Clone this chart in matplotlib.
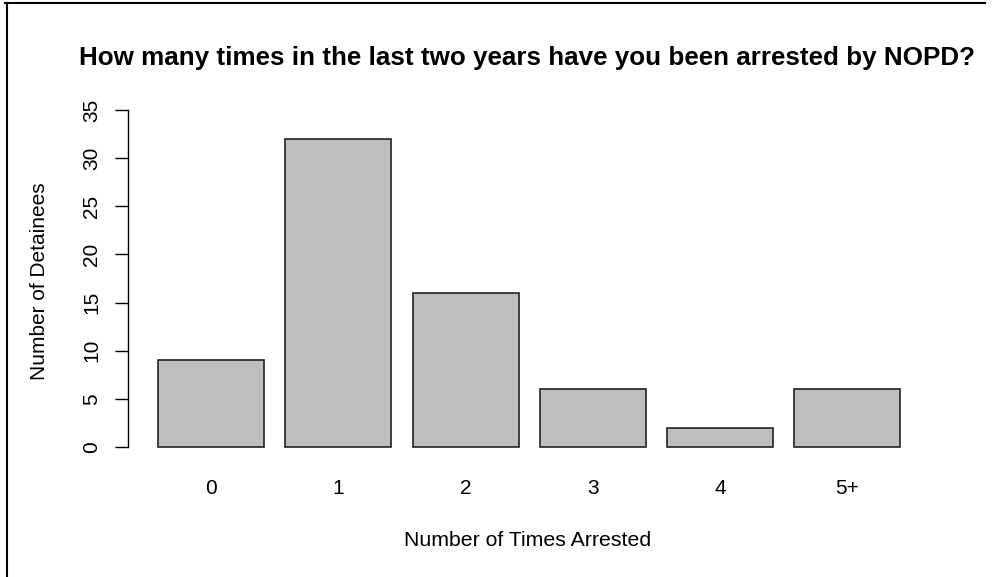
import numpy as np
import matplotlib
matplotlib.use("Agg")
import matplotlib.pyplot as plt
from matplotlib.lines import Line2D

plt.rcParams['font.family'] = ['Liberation Sans', 'DejaVu Sans']

# data
categories = ['0', '1', '2', '3', '4', '5+']
detainees = [9, 32, 16, 6, 2, 6]
y_ticks = [0, 5, 10, 15, 20, 25, 30, 35]

W, H = 992, 577
fig = plt.figure(figsize=(W / 100, H / 100), dpi=100)

# plot region in pixels (R style: bar width 1, space 0.2)
left, right, top, bottom = 128.3, 930.0, 96.5, 460.5
ax = fig.add_axes([left / W, 1 - bottom / H, (right - left) / W, (bottom - top) / H])

x = 0.7 + 1.2 * np.arange(len(categories))
ax.bar(x, detainees, width=1.0, color='#bebebe', edgecolor='#222222', linewidth=1.2)

ax.set_xlim(-0.08, 7.48)
ax.set_ylim(-1.4, 36.4)

for s in ['top', 'right', 'bottom']:
    ax.spines[s].set_visible(False)
ax.spines['left'].set_bounds(0, 35)
ax.spines['left'].set_linewidth(1.0)

ax.set_yticks(y_ticks)
ax.set_yticklabels([str(t) for t in y_ticks], rotation=90, va='center', fontsize=15)
ax.tick_params(axis='y', length=9.5, width=1.0, pad=10)
ax.set_xticks(x)
ax.set_xticklabels(categories, fontsize=15)
ax.tick_params(axis='x', length=0, pad=13)

fig.text(527 / W, 1 - 58 / H,
         'How many times in the last two years have you been arrested by NOPD?',
         ha='center', va='center', fontsize=18.7, fontweight='bold')
fig.text(528 / W, 1 - 541 / H, 'Number of Times Arrested',
         ha='center', va='center', fontsize=15.3)
fig.text(40 / W, 1 - 281 / H, 'Number of Detainees',
         ha='center', va='center', rotation=90, fontsize=15)

# page frame lines
fig.add_artist(Line2D([5 / W, 985 / W], [1 - 3 / H, 1 - 3 / H], color='black', lw=1.5))
fig.add_artist(Line2D([7 / W, 7 / W], [0, 1 - 3 / H], color='black', lw=1.5))

fig.savefig('out.png', dpi=100)
